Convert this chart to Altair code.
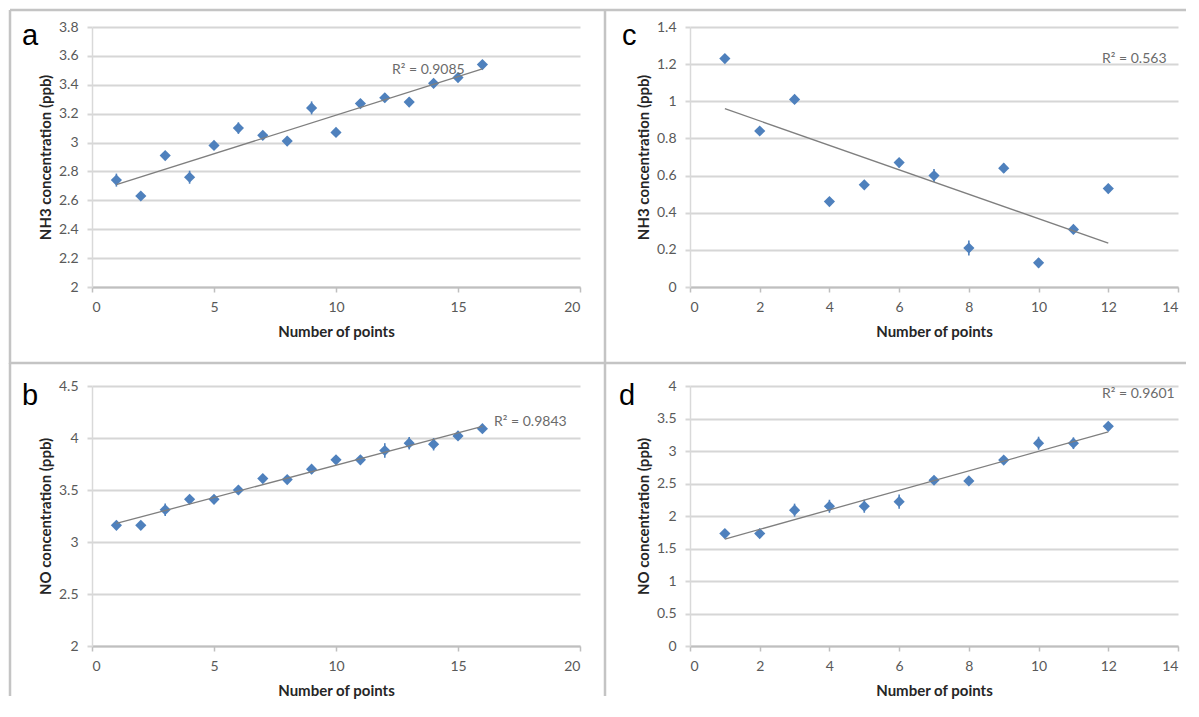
import altair as alt
import pandas as pd

# ---------------- data ----------------
a_x = [1, 2, 3, 4, 5, 6, 7, 8, 9, 10, 11, 12, 13, 14, 15, 16]
a_y = [2.74, 2.63, 2.91, 2.76, 2.98, 3.10, 3.05, 3.01, 3.24, 3.07, 3.27, 3.31, 3.28, 3.41, 3.45, 3.54]
a_err = [0.045, 0.02, 0.03, 0.045, 0.03, 0.04, 0.03, 0.03, 0.045, 0.03, 0.03, 0.03, 0.03, 0.02, 0.03, 0.02]

b_x = [1, 2, 3, 4, 5, 6, 7, 8, 9, 10, 11, 12, 13, 14, 15, 16]
b_y = [3.16, 3.16, 3.31, 3.41, 3.41, 3.50, 3.61, 3.60, 3.70, 3.79, 3.79, 3.88, 3.95, 3.94, 4.02, 4.09]
b_err = [0.03, 0.03, 0.06, 0.03, 0.03, 0.04, 0.04, 0.03, 0.04, 0.04, 0.03, 0.07, 0.06, 0.06, 0.04, 0.03]

c_x = [1, 2, 3, 4, 5, 6, 7, 8, 9, 10, 11, 12]
c_y = [1.23, 0.84, 1.01, 0.46, 0.55, 0.67, 0.60, 0.21, 0.64, 0.13, 0.31, 0.53]
c_err = [0.02, 0.02, 0.02, 0.02, 0.02, 0.025, 0.035, 0.04, 0.025, 0.025, 0.02, 0.025]

d_x = [1, 2, 3, 4, 5, 6, 7, 8, 9, 10, 11, 12]
d_y = [1.73, 1.73, 2.09, 2.15, 2.15, 2.22, 2.55, 2.54, 2.86, 3.12, 3.12, 3.38]
d_err = [0.06, 0.05, 0.1, 0.1, 0.1, 0.11, 0.06, 0.06, 0.06, 0.1, 0.09, 0.05]

x_ticks_20 = [0, 5, 10, 15, 20]
x_ticks_14 = [0, 2, 4, 6, 8, 10, 12, 14]
a_yticks = [2, 2.2, 2.4, 2.6, 2.8, 3, 3.2, 3.4, 3.6, 3.8]
b_yticks = [2, 2.5, 3, 3.5, 4, 4.5]
c_yticks = [0, 0.2, 0.4, 0.6, 0.8, 1, 1.2, 1.4]
d_yticks = [0, 0.5, 1, 1.5, 2, 2.5, 3, 3.5, 4]

r2_labels = ["R\u00b2 = 0.9085", "R\u00b2 = 0.9843", "R\u00b2 = 0.563", "R\u00b2 = 0.9601"]
panel_letters = ["a", "b", "c", "d"]
x_title = "Number of points"
y_titles = ["NH3 concentration (ppb)", "NO concentration (ppb)",
            "NH3 concentration (ppb)", "NO concentration (ppb)"]

W, H = 488, 260
BLUE = "#4F81BD"
FONT = "Lato"


def panel(xs, ys, errs, xdomain, xticks, ydomain, yticks, ytitle, r2, r2pos,
          letter, letterpos, border):
    df = pd.DataFrame({"x": xs, "y": ys, "err": errs})
    base = alt.Chart(df)
    xenc = alt.X("x:Q", scale=alt.Scale(domain=xdomain, nice=False, zero=False),
                 axis=alt.Axis(values=xticks, tickCount=len(xticks) + 1, title=x_title,
                               grid=False, format="~g", labelOverlap=False))
    yenc = alt.Y("y:Q", scale=alt.Scale(domain=ydomain, nice=False, zero=False),
                 axis=alt.Axis(values=yticks, tickCount=len(yticks) + 1, title=ytitle,
                               grid=True, format="~g", labelOverlap=False))

    errbars = base.transform_calculate(
        lo="datum.y - datum.err", hi="datum.y + datum.err"
    ).mark_rule(color=BLUE, strokeWidth=1.6).encode(
        x=alt.X("x:Q"), y=alt.Y("lo:Q"), y2="hi:Q")

    points = base.mark_point(shape="diamond", filled=True, size=125,
                             color=BLUE, opacity=1).encode(x=xenc, y=yenc)

    trend = base.transform_regression("x", "y").mark_line(
        color="#7f7f7f", strokeWidth=1.3).encode(x="x:Q", y="y:Q")

    r2text = alt.Chart(pd.DataFrame({"t": [r2]})).mark_text(
        align="left", baseline="middle", font=FONT, fontSize=14, color="#6b6b6b"
    ).encode(x=alt.value(r2pos[0]), y=alt.value(r2pos[1]), text="t:N")

    lettertext = alt.Chart(pd.DataFrame({"t": [letter]})).mark_text(
        align="left", baseline="alphabetic", font="Liberation Sans", fontSize=29,
        color="#000000"
    ).encode(x=alt.value(letterpos[0]), y=alt.value(letterpos[1]), text="t:N")

    bl, bt, br, bb = border
    vline = alt.Chart(pd.DataFrame({"k": [0]})).mark_rule(
        color="#c4c4c4", strokeWidth=2.5
    ).encode(x=alt.value(bl), y=alt.value(bt), y2=alt.value(bb))
    hline = alt.Chart(pd.DataFrame({"k": [0]})).mark_rule(
        color="#c4c4c4", strokeWidth=2.5
    ).encode(y=alt.value(bt), x=alt.value(bl), x2=alt.value(br))

    return alt.layer(points, errbars, trend, r2text, lettertext, vline, hline).properties(
        width=W, height=H)


pa = panel(a_x, a_y, a_err, [0, 20], x_ticks_20, [2, 3.8], a_yticks, y_titles[0],
           r2_labels[0], (300, 43), panel_letters[0], (-70, 18), (-82, -17, 513, 337))
pc = panel(c_x, c_y, c_err, [0, 14], x_ticks_14, [0, 1.4], c_yticks, y_titles[2],
           r2_labels[2], (412, 32), panel_letters[2], (-68, 18), (-85, -17, 496, 337))
pb = panel(b_x, b_y, b_err, [0, 20], x_ticks_20, [2, 4.5], b_yticks, y_titles[1],
           r2_labels[1], (402, 36), panel_letters[1], (-70, 19), (-82, -23, 513, 310))
pd_ = panel(d_x, d_y, d_err, [0, 14], x_ticks_14, [0, 4], d_yticks, y_titles[3],
            r2_labels[3], (412, 8), panel_letters[3], (-71, 19), (-85, -23, 496, 310))

chart = alt.concat(pa, pc, pb, pd_, columns=2,
                   spacing={"row": 99, "column": 110}, bounds="flush").properties(
    padding=0, background="white"
).configure_view(stroke="transparent").configure_axis(
    labelFont=FONT, labelFontSize=14, labelColor="#595959",
    titleFont=FONT, titleFontSize=15, titleFontWeight="bold", titleColor="#262626",
    gridColor="#d6d6d6", gridWidth=2,
).configure_axisX(
    domainColor="#bfbfbf", domainWidth=2, tickColor="#bfbfbf", tickWidth=1.5, tickSize=5,
    labelPadding=8, titlePadding=10,
).configure_axisY(
    domainColor="#d9d9d9", domainWidth=1.5, tickColor="#d6d6d6", tickWidth=2,
    tickSize=5, labelPadding=9, titlePadding=5,
)

chart.save("out.html", embed_options={"renderer": "svg", "actions": False})
